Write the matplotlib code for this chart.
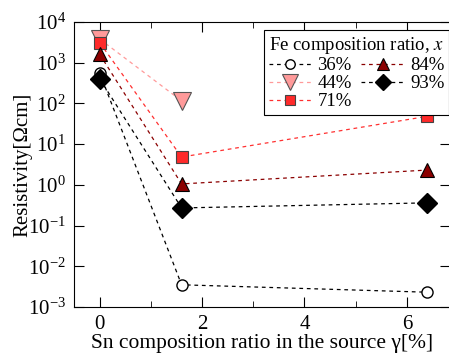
import numpy as np
import matplotlib.pyplot as plt
from matplotlib.ticker import LogLocator, NullFormatter, MultipleLocator

plt.rcParams['font.family'] = 'Liberation Serif'
plt.rcParams['mathtext.fontset'] = 'stix'

# Sn composition ratio in source (%)
sn_full = [0, 1.6, 6.4]
sn_44 = [0, 1.6]

# resistivity (Ohm cm) for each Fe composition ratio
rho_36 = [560, 0.0035, 0.0023]
rho_44 = [3800, 115]
rho_71 = [3100, 4.8, 48]
rho_84 = [1600, 1.05, 2.3]
rho_93 = [400, 0.27, 0.36]

fig = plt.figure(figsize=(4.49, 3.59), dpi=100)
ax = fig.add_axes([0.165, 0.145, 0.838, 0.794])

dash = (0, (3, 3))
l36, = ax.plot(sn_full, rho_36, ls=dash, lw=0.9, color='black', marker='o', ms=8,
               mfc='white', mec='black', label='36%')
l44, = ax.plot(sn_44, rho_44, ls=dash, lw=0.9, color='#ff9a9a', marker='v', ms=13,
               mfc='#ff9a9a', mec='#555555', mew=0.8, label='44%')
l71, = ax.plot(sn_full, rho_71, ls=dash, lw=0.9, color='#ff3030', marker='s', ms=9,
               mfc='#ff2a2a', mec='#444444', mew=0.8, label='71%')
l84, = ax.plot(sn_full, rho_84, ls=dash, lw=0.9, color='#8b0000', marker='^', ms=10,
               mfc='#8b0000', mec='black', mew=0.8, label='84%')
l93, = ax.plot(sn_full, rho_93, ls=dash, lw=0.9, color='black', marker='D', ms=10,
               mfc='black', mec='black', label='93%')

ax.set_yscale('log')
ax.set_ylim(1e-3, 1e4)
ax.set_xlim(-0.5, 6.85)
ax.yaxis.set_major_locator(LogLocator(base=10, numticks=10))
ax.yaxis.set_minor_formatter(NullFormatter())
ax.yaxis.set_minor_locator(LogLocator(base=10, subs=[], numticks=10))
ax.xaxis.set_major_locator(MultipleLocator(2))
ax.xaxis.set_minor_locator(MultipleLocator(1))
ax.tick_params(which='both', direction='in', top=True, right=True, labelsize=15, pad=6)
ax.tick_params(which='major', length=7)
ax.tick_params(which='minor', length=4)

ax.set_xlabel('Sn composition ratio in the source γ[%]', fontsize=15.5, labelpad=0)
ax.set_ylabel('Resistivity[Ωcm]', fontsize=15, labelpad=-3)

leg = ax.legend(handles=[l36, l44, l71, l84, l93], ncol=2, loc='upper left',
                bbox_to_anchor=(0.505, 0.97), borderaxespad=0, fontsize=13.5,
                title='Fe composition ratio, $\\it{x}$', title_fontsize=13.5,
                frameon=True, fancybox=False, edgecolor='black', framealpha=1,
                handlelength=2.3, handletextpad=0.3, columnspacing=0.5,
                labelspacing=0.05, borderpad=0.25, markerscale=0.85)
leg.get_frame().set_linewidth(0.8)

fig.savefig('out.png', dpi=100)
